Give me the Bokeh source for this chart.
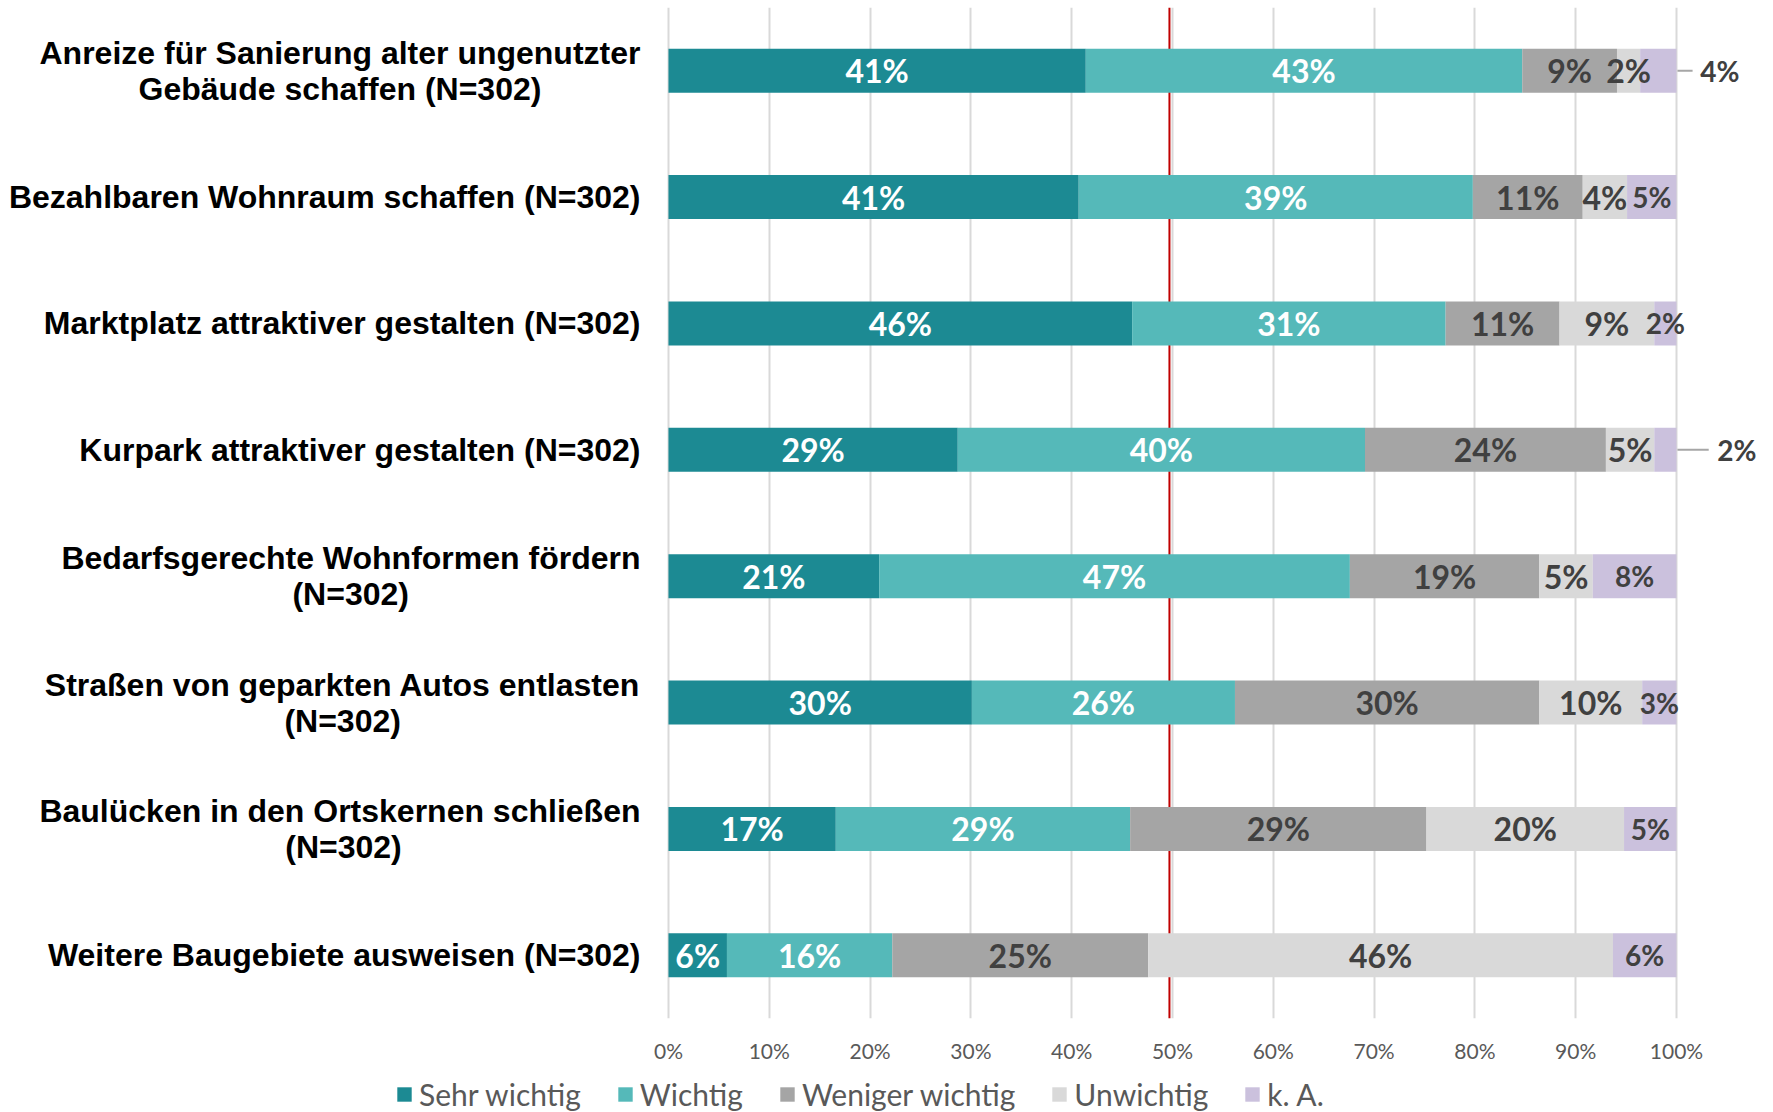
from bokeh.plotting import figure
from bokeh.layouts import column
from bokeh.models import (FactorRange, Range1d, FixedTicker, Legend, LegendItem,
                          Span, ColumnDataSource)
from bokeh.core.properties import value
from bokeh.embed import file_html
from bokeh.resources import INLINE

# ---------------- data ----------------
categories = [
    "Anreize für Sanierung alter ungenutzter\nGebäude schaffen (N=302)",
    "Bezahlbaren Wohnraum schaffen (N=302)",
    "Marktplatz attraktiver gestalten (N=302)",
    "Kurpark attraktiver gestalten (N=302)",
    "Bedarfsgerechte Wohnformen fördern\n(N=302)",
    "Straßen von geparkten Autos entlasten\n(N=302)",
    "Baulücken in den Ortskernen schließen\n(N=302)",
    "Weitere Baugebiete ausweisen (N=302)",
]
series = ["Sehr wichtig", "Wichtig", "Weniger wichtig", "Unwichtig", "k. A."]
sehr_wichtig = [41.4, 40.7, 46.0, 28.7, 20.9, 30.1, 16.6, 5.8]
wichtig = [43.3, 39.1, 31.1, 40.4, 46.7, 26.1, 29.2, 16.4]
weniger_wichtig = [9.4, 10.9, 11.3, 23.9, 18.8, 30.2, 29.4, 25.4]
unwichtig = [2.3, 4.4, 9.4, 4.8, 5.3, 10.2, 19.6, 46.1]
k_a = [3.6, 4.9, 2.2, 2.2, 8.3, 3.4, 5.2, 6.3]
ticks = [0, 10, 20, 30, 40, 50, 60, 70, 80, 90, 100]
tick_labels = ["0%", "10%", "20%", "30%", "40%", "50%", "60%", "70%", "80%", "90%", "100%"]
reference_line = 49.7

# ---------------- style ----------------
colors = ["#1c8a93", "#55b9b9", "#a5a5a5", "#d9d9d9", "#cbc1dd"]
text_colors = ["white", "white", "#404040", "#404040", "#404040"]
ka_outside_offset = [4.3, None, None, 6.0, None, None, None, None]  # label moved outside bar
leader_len = [1.5, None, None, 3.1, None, None, None, None]
CAT_FS = 32
LABEL_GAP = 28      # px between category labels and bars
LINE_SHIFT = 18     # px half line distance of wrapped labels
PX_PER_UNIT = 10.08
LEFT_AREA = 668     # px reserved for category labels (inside frame)
RIGHT_END = 108.04

# Arial-Bold (= Liberation Sans Bold) advance widths, used to centre wrapped lines
ARIAL_BOLD = {" ": 278, "(": 333, ")": 333, "=": 584, "A": 722, "B": 722,
              "G": 778, "N": 722, "S": 667, "W": 944, "a": 556, "b": 611, "c": 556,
              "d": 611, "e": 556, "f": 333, "g": 611, "h": 611, "i": 278, "k": 556,
              "l": 278, "m": 889, "n": 611, "o": 611, "p": 611, "r": 389, "s": 556,
              "t": 333, "u": 611, "v": 556, "z": 500, "ä": 556, "ö": 611, "ü": 611,
              "ß": 611}


def text_w(s):
    return sum(ARIAL_BOLD.get(c, 556) for c in s) / 1000.0 * CAT_FS


fields = ["s0", "s1", "s2", "s3", "s4"]
values = [sehr_wichtig, wichtig, weniger_wichtig, unwichtig, k_a]
data = {"cat": categories}
for f, v in zip(fields, values):
    data[f] = v
source = ColumnDataSource(data)

x_start = -LEFT_AREA / PX_PER_UNIT
frame_w = int(round((RIGHT_END - x_start) * PX_PER_UNIT))
p = figure(
    y_range=FactorRange(*reversed(categories), range_padding=0),
    x_range=Range1d(x_start, RIGHT_END),
    width=frame_w + 8, height=1068,
    min_border_left=0, min_border_right=8, min_border_top=7, min_border_bottom=50,
    output_backend="svg", toolbar_location=None,
)
p.outline_line_color = None
p.background_fill_color = "white"
p.border_fill_color = "white"

# grid
p.xgrid.ticker = FixedTicker(ticks=ticks)
p.xgrid.grid_line_color = "#d9d9d9"
p.xgrid.grid_line_width = 2
p.ygrid.grid_line_color = None

p.add_layout(Span(location=reference_line, dimension="height", line_color="#c00000",
                  line_width=2, level="underlay"))

bar_h = 0.348
renderers = p.hbar_stack(fields, y="cat", height=bar_h, color=colors, source=source,
                         line_color=None)

# segment labels
groups = {"big": {"x": [], "y": [], "t": [], "c": []},
          "small": {"x": [], "y": [], "t": [], "c": []}}
seg = {"x0": [], "x1": [], "y": []}
for i, cat in enumerate(categories):
    start = 0.0
    for k, vals in enumerate(values):
        v = vals[i]
        label = f"{int(v + 0.5)}%"
        if k == 4:
            g = groups["small"]
            if ka_outside_offset[i] is not None:
                g["x"].append(start + v + ka_outside_offset[i])
                seg["x0"].append(start + v + 0.1)
                seg["x1"].append(start + v + 0.1 + leader_len[i])
                seg["y"].append(cat)
            else:
                g["x"].append(start + v / 2)
        else:
            g = groups["big"]
            g["x"].append(start + v / 2)
        g["y"].append(cat)
        g["t"].append(label)
        g["c"].append(text_colors[k])
        start += v

p.segment(x0="x0", x1="x1", y0="y", y1="y", source=ColumnDataSource(seg),
          line_color="#a6a6a6", line_width=2)

p.text(x="x", y="y", text="t", text_color="c", source=ColumnDataSource(groups["big"]),
       text_align="center", text_baseline="middle", text_font=value("Lato"),
       text_font_style="bold", text_font_size="32px")
p.text(x="x", y="y", text="t", text_color="c", source=ColumnDataSource(groups["small"]),
       text_align="center", text_baseline="middle", text_font=value("Lato"),
       text_font_style="bold", text_font_size="28px")

# category labels (right-aligned block, wrapped lines centred under each other)
right_lines = {"x": [], "y": [], "t": [], "dy": []}
centre_lines = {"x": [], "y": [], "t": [], "dx": [], "dy": []}
for cat in categories:
    lines = cat.split("\n")
    if len(lines) == 1:
        right_lines["x"].append(0)
        right_lines["y"].append(cat)
        right_lines["t"].append(lines[0])
        right_lines["dy"].append(0)
    else:
        w1 = text_w(lines[0])
        right_lines["x"].append(0)
        right_lines["y"].append(cat)
        right_lines["t"].append(lines[0])
        right_lines["dy"].append(-LINE_SHIFT)
        centre_lines["x"].append(0)
        centre_lines["y"].append(cat)
        centre_lines["t"].append(lines[1])
        centre_lines["dx"].append(-LABEL_GAP - w1 / 2)
        centre_lines["dy"].append(LINE_SHIFT)

common = dict(text_baseline="middle", text_font=value("Liberation Sans"),
              text_font_style="bold", text_font_size=f"{CAT_FS}px", text_color="black")
p.text(x="x", y="y", text="t", y_offset="dy", x_offset=-LABEL_GAP, text_align="right",
       source=ColumnDataSource(right_lines), **common)
p.text(x="x", y="y", text="t", y_offset="dy", x_offset="dx", text_align="center",
       source=ColumnDataSource(centre_lines), **common)

# axes
xa = p.xaxis[0]
xa.ticker = FixedTicker(ticks=ticks)
xa.major_label_overrides = {t: l for t, l in zip(ticks, tick_labels)}
xa.axis_line_color = None
xa.major_tick_line_color = None
xa.minor_tick_line_color = None
xa.major_label_text_font = "Lato"
xa.major_label_text_font_size = "21px"
xa.major_label_text_color = "#595959"
xa.major_label_standoff = 13
p.yaxis.visible = False

# legend in its own strip below the chart (swatch renderers have zero-size bars)
lf = figure(width=frame_w + 8, height=44, x_range=Range1d(0, 1), y_range=Range1d(0, 1),
            min_border=0, output_backend="svg", toolbar_location=None)
lf.outline_line_color = None
lf.xaxis.visible = False
lf.yaxis.visible = False
lf.grid.grid_line_color = None
swatches = [lf.hbar(y=[0], left=[0], right=[0], height=0, color=c, line_color=None)
            for c in colors]
legend = Legend(
    items=[LegendItem(label=s, renderers=[r]) for s, r in zip(series, swatches)],
    orientation="horizontal", location=(395, 0),
    label_text_font="Lato", label_text_font_size="30px", label_text_color="#595959",
    glyph_width=18, glyph_height=18, label_standoff=6, spacing=35,
    padding=0, margin=0, border_line_color=None, background_fill_alpha=0,
    label_height=34,
)
lf.add_layout(legend, "center")

open("out.html", "w").write(file_html(column(p, lf, spacing=0), INLINE))
